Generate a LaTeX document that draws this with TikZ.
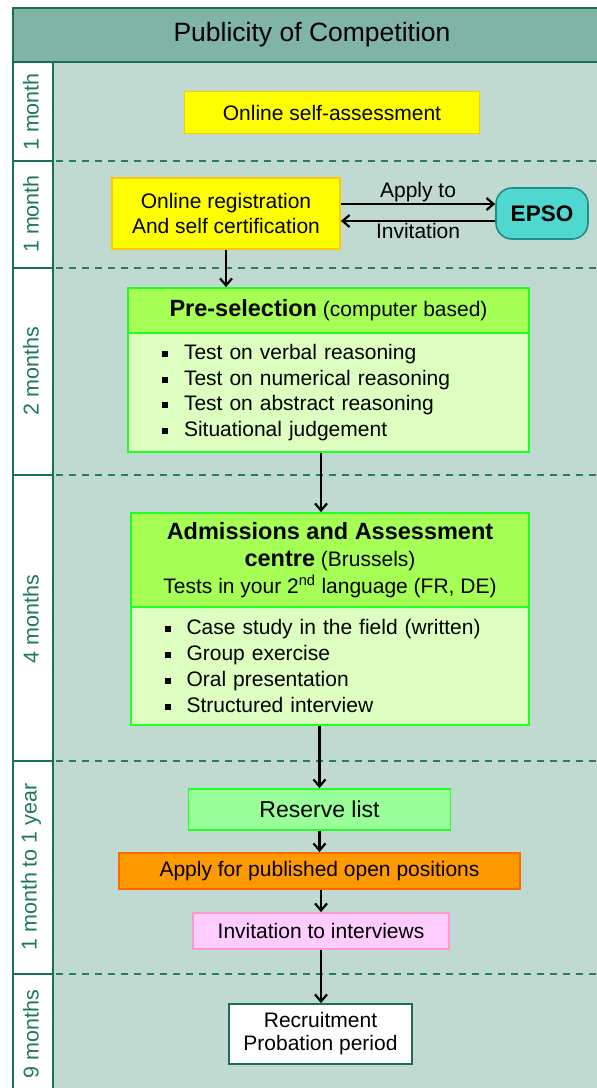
\documentclass[tikz,border=0pt]{standalone}
\usepackage{fontspec}
\setmainfont{Liberation Sans}
\usetikzlibrary{arrows.meta}
\definecolor{lanebg}{HTML}{C0DAD2}
\definecolor{titlebg}{HTML}{80B4A6}
\definecolor{framec}{HTML}{1A7052}
\definecolor{labelc}{HTML}{1D7A5E}
\definecolor{sepc}{HTML}{2B7B65}
\definecolor{yellowc}{HTML}{FFFF00}
\definecolor{goldc}{HTML}{FFC800}
\definecolor{greenhead}{HTML}{A6FF54}
\definecolor{greenline}{HTML}{22FF22}
\definecolor{greenbody}{HTML}{DDFFC0}
\definecolor{reservec}{HTML}{99FF99}
\definecolor{orangec}{HTML}{FF9900}
\definecolor{orangeline}{HTML}{FF6A00}
\definecolor{pinkc}{HTML}{FFCCFF}
\definecolor{pinkline}{HTML}{FF99CC}
\definecolor{epsoc}{HTML}{50D8D0}
\definecolor{epsoline}{HTML}{1F8F86}
\newcommand\mybul{\makebox[22pt][l]{\rule[2.5pt]{6pt}{6pt}}}
\begin{document}
\begin{tikzpicture}[x=1pt,y=-1pt,
  frameline/.style={draw=framec,line width=1.6pt},
  sepline/.style={draw=sepc,line width=1.5pt,dash pattern=on 7pt off 6pt},
  lanelabel/.style={rotate=90,text=labelc,font=\fontsize{21.5}{25}\selectfont},
  box/.style={draw,line width=1.8pt,inner sep=2pt,align=center,font=\fontsize{21}{25}\selectfont},
  gbox/.style={box,draw=greenline},
  arr/.style={line width=2.2pt,-{Straight Barb[length=7pt,width=12pt]}},
  lbl/.style={font=\fontsize{21}{25}\selectfont,inner sep=1.5pt}]
\useasboundingbox (0,0) rectangle (597,1088);
\clip (0,0) rectangle (597,1088);
\fill[white] (0,0) rectangle (597,1088);
\fill[lanebg] (13,8) rectangle (620,1110);
\fill[titlebg] (13,8) rectangle (620,62);
\fill[white] (13,62) rectangle (53,1110);
\foreach \yy in {161,268,475,761,974} {
  \draw[sepline] (56,\yy) -- (620,\yy);
  \draw[frameline] (13,\yy) -- (53,\yy);
}
\draw[frameline] (13,1110) -- (13,8) -- (620,8);
\draw[frameline] (13,62) -- (620,62);
\draw[frameline] (53,62) -- (53,1110);

\node[font=\fontsize{26.5}{30}\selectfont] (title) at (312,35) {Publicity of Competition};

\node[lanelabel] (l1) at (31,112) {1 month};
\node[lanelabel] (l2) at (31,214) {1 month};
\node[lanelabel] (l3) at (31,371) {2 months};
\node[lanelabel] (l4) at (31,619) {4 months};
\node[lanelabel] (l5) at (31,867) {1 month to 1 year};
\node[lanelabel] (l6) at (31,1034) {9 months};

\node[box,fill=yellowc,draw=goldc,minimum width=295,minimum height=42] (selfass) at (332,112.5) {Online self-assessment};

\node[box,fill=yellowc,draw=goldc,minimum width=228,minimum height=71] (reg) at (226,213.5) {Online registration\\And self certification};
\node[draw=epsoline,fill=epsoc,line width=1.6pt,rounded corners=16pt,minimum width=92,minimum height=51,font=\fontsize{22.5}{26}\selectfont\bfseries] (epso) at (542,213.5) {EPSO};
\coordinate (ya) at (0,204);
\coordinate (yb) at (0,221);
\draw[arr] (reg.east |- ya) -- node[lbl,above] (applyto) {Apply to} (epso.west |- ya);
\draw[arr] (epso.west |- yb) -- node[lbl,below] (invit) {Invitation} (reg.east |- yb);

\node[gbox,fill=greenbody,minimum width=401,minimum height=119,text width=333,inner xsep=34pt,align=left,font=\fontsize{21}{25.7}\selectfont] (prebody) at (328.5,392.5)
  {\mybul Test on verbal reasoning\\\mybul Test on numerical reasoning\\\mybul Test on abstract reasoning\\\mybul Situational judgement};
\node[gbox,fill=greenhead,minimum width=401,minimum height=45] (prehead) at (328.5,310.5)
  {{\fontsize{23.5}{27}\selectfont\bfseries Pre-selection} (computer based)};

\node[gbox,fill=greenbody,minimum width=398,minimum height=118,text width=331,inner xsep=33.5pt,align=left,font=\fontsize{21}{26}\selectfont] (adbody) at (330,666)
  {\mybul Case study in the field (written)\\\mybul Group exercise\\\mybul Oral presentation\\\mybul Structured interview};
\node[gbox,fill=greenhead,minimum width=398,minimum height=94,font=\fontsize{21}{27}\selectfont] (adhead) at (330,560)
  {{\fontsize{23.5}{27}\selectfont\bfseries Admissions and Assessment}\\{\fontsize{23.5}{27}\selectfont\bfseries centre} (Brussels)\\Tests in your 2\textsuperscript{nd} language (FR, DE)};

\node[gbox,fill=reservec,minimum width=262,minimum height=41,font=\fontsize{23}{27}\selectfont] (reserve) at (319.5,809.5) {Reserve list};
\node[box,fill=orangec,draw=orangeline,minimum width=401,minimum height=36] (apply) at (319.5,871) {Apply for published open positions};
\node[box,fill=pinkc,draw=pinkline,minimum width=256,minimum height=36] (invite) at (321,931) {Invitation to interviews};
\node[box,fill=white,draw=framec,minimum width=183,minimum height=60,font=\fontsize{21}{23}\selectfont] (recruit) at (320.5,1034) {Recruitment\\Probation period};

\draw[arr] (reg.south) -- (reg.south |- prehead.north);
\draw[arr] (prebody.south -| invite.north) -- (adhead.north -| invite.north);
\draw[arr] (adbody.south -| reserve.north) -- (reserve.north);
\draw[arr] (reserve.south) -- (apply.north);
\draw[arr] (apply.south -| invite.north) -- (invite.north);
\draw[arr] (invite.south) -- (invite.south |- recruit.north);
\end{tikzpicture}
\end{document}
